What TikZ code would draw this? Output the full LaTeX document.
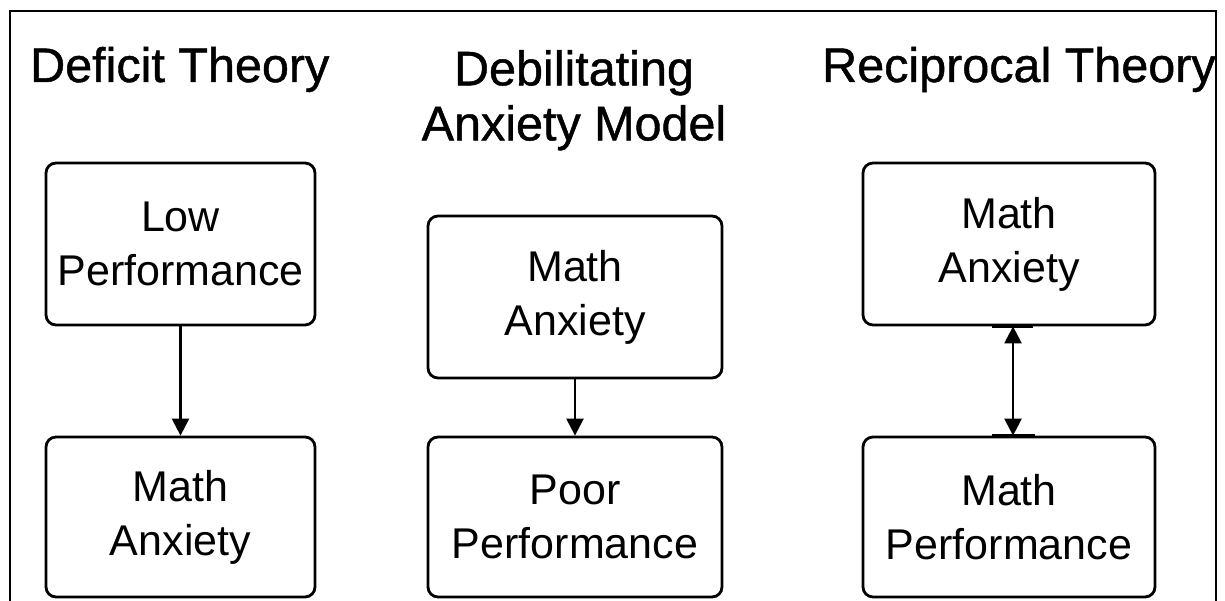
\documentclass[tikz,border=0pt]{standalone}
\usepackage{fontspec}
\setmainfont{Liberation Sans}
\newfontfamily\titlefont[FakeBold=0.9]{Liberation Sans}
\usetikzlibrary{arrows.meta}
\tikzset{
  box/.style={draw=black, line width=2.8pt, rounded corners=10pt, align=center,
    inner sep=0pt, font=\fontsize{43}{54}\selectfont},
  ttl/.style={inner sep=0pt, font=\titlefont\fontsize{48.5}{55}\selectfont},
  conn/.style={line width=2.5pt, -{Triangle[width=17pt,length=17pt]}},
  biconn/.style={line width=2.5pt, {Triangle[width=17pt,length=17pt]}-{Triangle[width=17pt,length=17pt]}},
  tick/.style={line width=3pt},
  frame/.style={line width=2.2pt}
}
\begin{document}
\begin{tikzpicture}[x=1pt,y=-1pt]
\useasboundingbox (0,0) rectangle (1225,601);
\fill[white] (0,0) rectangle (1225,601);
\draw[frame] (10,603) -- (10,11) -- (1216,11) -- (1216,603);

% titles
\node[ttl, anchor=base west] (t1) at (30,82) {Deficit Theory};
\node[ttl, anchor=north, align=center] (t2) at (574,50) {Debilitating\\Anxiety Model};
\node[ttl, anchor=base west] (t3) at (822,82) {Reciprocal Theory};

% boxes
\node[box, minimum width=269pt, minimum height=162pt] (L1) at (180.5,244) {Low\\Performance};
\node[box, minimum width=269pt, minimum height=160pt] (L2) at (180.5,517) {Math\\Anxiety};
\node[box, minimum width=294pt, minimum height=162pt] (M1) at (575,297) {Math\\Anxiety};
\node[box, minimum width=294pt, minimum height=160pt] (M2) at (575,517) {Poor\\Performance};
\node[box, minimum width=292pt, minimum height=162pt] (R1) at (1009,244) {Math\\Anxiety};
\node[box, minimum width=292pt, minimum height=160pt] (R2) at (1009,517) {Math\\Performance};

% connectors
\draw[conn] (L1.south) -- (L2.north);
\draw[conn] (M1.south) -- (M2.north);
\draw[biconn] ([xshift=4pt]R1.south) -- ([xshift=4pt]R2.north);
\draw[tick] ([xshift=-17pt]R1.south) -- ([xshift=24pt]R1.south);
\draw[tick] ([xshift=-17pt]R2.north) -- ([xshift=26pt]R2.north);
\end{tikzpicture}
\end{document}
